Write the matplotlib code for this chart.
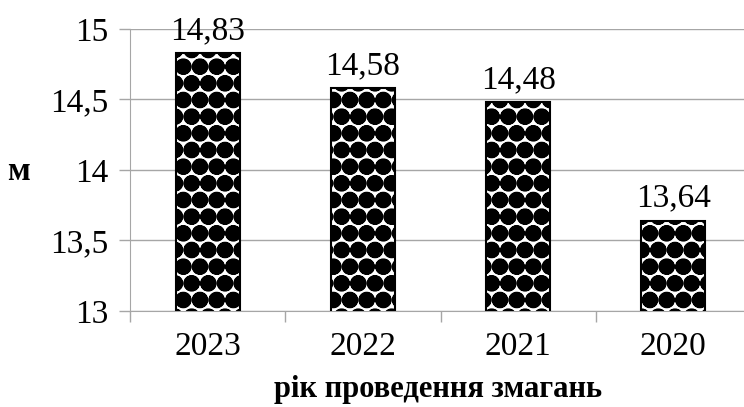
import matplotlib.pyplot as plt

years = ['2023', '2022', '2021', '2020']
values = [14.83, 14.58, 14.48, 13.64]
value_labels = ['14,83', '14,58', '14,48', '13,64']
y_ticks = [13, 13.5, 14, 14.5, 15]
y_tick_labels = ['13', '13,5', '14', '14,5', '15']

plt.rcParams['font.family'] = ['Liberation Serif', 'DejaVu Serif']
plt.rcParams['hatch.linewidth'] = 3.5
plt.rcParams['hatch.color'] = 'black'

axis_grey = '#a6a6a6'

fig = plt.figure(figsize=(7.44, 4.07), dpi=100)
ax = fig.add_axes([0.175, 0.236, 0.828, 0.693])

x = range(len(years))
ax.bar(x, values, width=0.41, bottom=0, color='white', edgecolor='black',
       hatch='O.', linewidth=1.5, zorder=3)

for xi, v, lab in zip(x, values, value_labels):
    ax.text(xi, v + 0.05, lab, ha='center', va='bottom', fontsize=24, zorder=4)

ax.set_ylim(13, 15)
ax.set_xlim(-0.5, 3.47)
ax.set_yticks(y_ticks)
ax.set_yticklabels(y_tick_labels)
ax.set_xticks(list(x))
ax.set_xticklabels(years)
ax.tick_params(axis='both', labelsize=24, colors='black')
ax.tick_params(axis='y', length=8, width=1, color=axis_grey, pad=8)
ax.tick_params(axis='x', length=0, pad=15)

# category boundary ticks on the x axis
ax.set_xticks([-0.5, 0.5, 1.5, 2.5], minor=True)
ax.tick_params(axis='x', which='minor', length=8, width=1, color=axis_grey)

ax.yaxis.grid(True, color=axis_grey, linewidth=1, zorder=0)
ax.set_axisbelow(True)
for side in ['top', 'right']:
    ax.spines[side].set_visible(False)
ax.spines['left'].set_color(axis_grey)
ax.spines['bottom'].set_color(axis_grey)

ax.set_xlabel('рік проведення змагань', fontsize=22, fontweight='bold', labelpad=9)
fig.text(0.025, 0.578, 'м', fontsize=24, fontweight='bold', ha='center', va='center')

fig.savefig('out.png', dpi=100)
